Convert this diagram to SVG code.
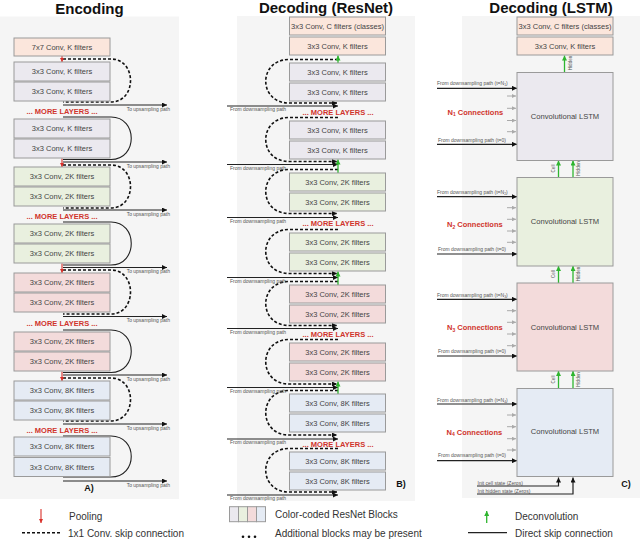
<svg xmlns="http://www.w3.org/2000/svg" width="640" height="541" viewBox="0 0 640 541">
<defs>
<style>
.bg{fill:#f5f5f5}
.box{stroke:#9a9a9a;stroke-width:1}
.pk{fill:#fbe6dc}.gy{fill:#ebe9ef}.gn{fill:#e9f0df}.rd{fill:#f3dbdb}.bl{fill:#e5ebf4}
.bt{font-family:"Liberation Sans",Arial,sans-serif;font-size:7.5px;fill:#444;text-anchor:middle}
.lt{font-family:"Liberation Sans",Arial,sans-serif;font-size:7.6px;fill:#444;text-anchor:middle}
.more{font-family:"Liberation Sans",Arial,sans-serif;font-size:7.5px;font-weight:bold;fill:#d0342c;text-anchor:middle}
.nc{font-family:"Liberation Sans",Arial,sans-serif;font-size:7.5px;font-weight:bold;fill:#d0342c}
.tiny{font-family:"Liberation Sans",Arial,sans-serif;font-size:5px;fill:#555}
.tr{text-anchor:end}
.rot{font-family:"Liberation Sans",Arial,sans-serif;font-size:4.5px;fill:#555;text-anchor:middle}
.title{font-family:"Liberation Sans",Arial,sans-serif;font-size:15px;font-weight:bold;fill:#111;text-anchor:middle}
.lab{font-family:"Liberation Sans",Arial,sans-serif;font-size:9px;font-weight:bold;fill:#111;text-anchor:middle}
.leg{font-family:"Liberation Sans",Arial,sans-serif;font-size:10px;fill:#333}
.dash{fill:none;stroke:#111;stroke-width:1.6;stroke-dasharray:3 2}
.solid{fill:none;stroke:#222;stroke-width:1.1}
.blk{fill:none;stroke:#222;stroke-width:1.2}
.gry{fill:none;stroke:#aaa;stroke-width:1}
.grn{fill:none;stroke:#2fb52f;stroke-width:1.3}
.red{fill:none;stroke:#d9302a;stroke-width:1.1}
</style>
<marker id="ab" viewBox="0 0 10 10" refX="10" refY="5" markerWidth="6" markerHeight="5" orient="auto" markerUnits="userSpaceOnUse"><path d="M0,0 L10,5 L0,10 z" fill="#111"/></marker>
<marker id="ag" viewBox="0 0 10 10" refX="10" refY="5" markerWidth="5" markerHeight="5" orient="auto" markerUnits="userSpaceOnUse"><path d="M0,0 L10,5 L0,10 z" fill="#2fb52f"/></marker>
<marker id="ar" viewBox="0 0 10 10" refX="10" refY="5" markerWidth="4.5" markerHeight="4.5" orient="auto" markerUnits="userSpaceOnUse"><path d="M0,0 L10,5 L0,10 z" fill="#d9302a"/></marker>
<marker id="ay" viewBox="0 0 10 10" refX="10" refY="5" markerWidth="4" markerHeight="4" orient="auto" markerUnits="userSpaceOnUse"><path d="M0,0 L10,5 L0,10 z" fill="#aaa"/></marker>
</defs>

<g id="panels">
<rect class="bg" x="0" y="16.5" width="179" height="482.5"/>
<rect class="bg" x="237" y="16" width="178" height="485"/>
<rect class="bg" x="462" y="16" width="178" height="482"/>
<text class="title" x="89.5" y="13.5">Encoding</text>
<text class="title" x="326" y="13">Decoding (ResNet)</text>
<text class="title" x="551" y="13">Decoding (LSTM)</text>
<text class="lab" x="89" y="490.5">A)</text>
<text class="lab" x="401" y="486.5">B)</text>
<text class="lab" x="626" y="486.5">C)</text>
</g>

<g id="connectors">
<!-- Encoding loops -->
<path class="dash" d="M63,59 H111 C137,59 137,102 111,102 H63"/>
<path class="dash" d="M63,165 H111 C137,165 137,208 111,208 H63"/>
<path class="dash" d="M63,270 H111 C137,270 137,314 111,314 H63"/>
<path class="dash" d="M63,378 H111 C137,378 137,421 111,421 H63"/>
<path class="solid" d="M63,117 H111 C138,117 138,159.5 111,159.5 H63"/>
<path class="solid" d="M63,222 H111 C138,222 138,265 111,265 H63"/>
<path class="solid" d="M63,330 H111 C138,330 138,372.5 111,372.5 H63"/>
<path class="solid" d="M63,436 H111 C138,436 138,477 111,477 H63"/>
<g class="blk" marker-end="url(#ab)">
<line x1="63" y1="105" x2="167" y2="105"/>
<line x1="63" y1="162" x2="167" y2="162"/>
<line x1="63" y1="210" x2="167" y2="210"/>
<line x1="63" y1="267.5" x2="167" y2="267.5"/>
<line x1="63" y1="316.5" x2="167" y2="316.5"/>
<line x1="63" y1="375" x2="167" y2="375"/>
<line x1="63" y1="424" x2="167" y2="424"/>
<line x1="63" y1="481" x2="167" y2="481"/>
</g>
<g class="tiny tr">
<text x="170" y="110.5">To upsampling path</text>
<text x="170" y="167.5">To upsampling path</text>
<text x="170" y="215.5">To upsampling path</text>
<text x="170" y="273">To upsampling path</text>
<text x="170" y="322">To upsampling path</text>
<text x="170" y="380.5">To upsampling path</text>
<text x="170" y="429.5">To upsampling path</text>
<text x="170" y="486.5">To upsampling path</text>
</g>
<g class="red" marker-end="url(#ar)">
<line x1="62" y1="56" x2="62" y2="62"/>
<line x1="62" y1="158.5" x2="62" y2="167"/>
<line x1="62" y1="263.5" x2="62" y2="273"/>
<line x1="62" y1="371.5" x2="62" y2="381"/>
</g>

<!-- ResNet loops -->
<g class="dash" marker-end="url(#ab)">
<path d="M338,59.5 H289 C258,59.5 258,103 289,103 H337"/>
<path d="M338,117.5 H289 C258,117.5 258,161.5 289,161.5 H337"/>
<path d="M338,169.5 H289 C258,169.5 258,213.5 289,213.5 H337"/>
<path d="M338,229.5 H289 C258,229.5 258,273.5 289,273.5 H337"/>
<path d="M338,281.5 H289 C258,281.5 258,325.5 289,325.5 H337"/>
<path d="M338,339.5 H289 C258,339.5 258,384 289,384 H337"/>
<path d="M338,390.5 H289 C258,390.5 258,435 289,435 H337"/>
<path d="M338,448.5 H289 C258,448.5 258,492 289,492 H337"/>
</g>
<g class="blk" marker-end="url(#ab)">
<line x1="227" y1="106" x2="338" y2="106"/>
<line x1="227" y1="164.5" x2="338" y2="164.5"/>
<line x1="227" y1="217.5" x2="338" y2="217.5"/>
<line x1="227" y1="277.5" x2="338" y2="277.5"/>
<line x1="227" y1="328.5" x2="338" y2="328.5"/>
<line x1="227" y1="387.5" x2="338" y2="387.5"/>
<line x1="227" y1="439" x2="338" y2="439"/>
<line x1="227" y1="495" x2="338" y2="495"/>
</g>
<g class="tiny">
<text x="230" y="111">From downsampling path</text>
<text x="230" y="169.5">From downsampling path</text>
<text x="230" y="222.5">From downsampling path</text>
<text x="230" y="282.5">From downsampling path</text>
<text x="230" y="333.5">From downsampling path</text>
<text x="230" y="392.5">From downsampling path</text>
<text x="230" y="444">From downsampling path</text>
<text x="230" y="500">From downsampling path</text>
</g>
<g class="grn" marker-end="url(#ag)">
<line x1="338" y1="63" x2="338" y2="55.5"/>
<line x1="338" y1="173" x2="338" y2="159.5"/>
<line x1="338" y1="285" x2="338" y2="271.5"/>
<line x1="338" y1="394" x2="338" y2="381.5"/>
</g>

<!-- LSTM connections -->
<g class="grn" marker-end="url(#ag)">
<line x1="564.5" y1="72.5" x2="564.5" y2="55.5"/>
<line x1="558.5" y1="177.5" x2="558.5" y2="160.5"/>
<line x1="573" y1="177.5" x2="573" y2="160.5"/>
<line x1="558.5" y1="283" x2="558.5" y2="266"/>
<line x1="573" y1="283" x2="573" y2="266"/>
<line x1="558.5" y1="388.5" x2="558.5" y2="371"/>
<line x1="573" y1="388.5" x2="573" y2="371"/>
</g>
<g class="rot">
<text transform="translate(571.5,63) rotate(-90)">Hidden</text>
<text transform="translate(554.5,168.5) rotate(-90)">Cell</text>
<text transform="translate(579.5,168.5) rotate(-90)">Hidden</text>
<text transform="translate(554.5,274) rotate(-90)">Cell</text>
<text transform="translate(579.5,274) rotate(-90)">Hidden</text>
<text transform="translate(554.5,379.5) rotate(-90)">Cell</text>
<text transform="translate(579.5,379.5) rotate(-90)">Hidden</text>
</g>
<g class="blk" marker-end="url(#ab)">
<line x1="437" y1="88.3" x2="517" y2="88.3"/>
<line x1="437" y1="144.3" x2="517" y2="144.3"/>
<line x1="437" y1="196.7" x2="517" y2="196.7"/>
<line x1="437" y1="254" x2="517" y2="254"/>
<line x1="437" y1="299.3" x2="517" y2="299.3"/>
<line x1="437" y1="356" x2="517" y2="356"/>
<line x1="437" y1="404" x2="517" y2="404"/>
<line x1="437" y1="460.7" x2="517" y2="460.7"/>
</g>
<g class="gry" marker-end="url(#ay)">
<line x1="507" y1="96" x2="516" y2="96"/>
<line x1="507" y1="108.3" x2="516" y2="108.3"/>
<line x1="507" y1="120.5" x2="516" y2="120.5"/>
<line x1="507" y1="131.7" x2="516" y2="131.7"/>
<line x1="507" y1="207.7" x2="516" y2="207.7"/>
<line x1="507" y1="219.3" x2="516" y2="219.3"/>
<line x1="507" y1="231" x2="516" y2="231"/>
<line x1="507" y1="242.3" x2="516" y2="242.3"/>
<line x1="507" y1="310.7" x2="516" y2="310.7"/>
<line x1="507" y1="322.3" x2="516" y2="322.3"/>
<line x1="507" y1="334" x2="516" y2="334"/>
<line x1="507" y1="345.7" x2="516" y2="345.7"/>
<line x1="507" y1="415" x2="516" y2="415"/>
<line x1="507" y1="426.7" x2="516" y2="426.7"/>
<line x1="507" y1="438.7" x2="516" y2="438.7"/>
<line x1="507" y1="450" x2="516" y2="450"/>
</g>
<g class="tiny">
<text x="437" y="85">From downsampling path (t=N<tspan font-size="3.5" dy="1">1</tspan><tspan dy="-1">)</tspan></text>
<text x="438" y="141.5">From downsampling path (t=0)</text>
<text x="437" y="194">From downsampling path (t=N<tspan font-size="3.5" dy="1">2</tspan><tspan dy="-1">)</tspan></text>
<text x="438" y="251">From downsampling path (t=0)</text>
<text x="437" y="296.8">From downsampling path (t=N<tspan font-size="3.5" dy="1">3</tspan><tspan dy="-1">)</tspan></text>
<text x="438" y="353">From downsampling path (t=0)</text>
<text x="437" y="401.5">From downsampling path (t=N<tspan font-size="3.5" dy="1">4</tspan><tspan dy="-1">)</tspan></text>
<text x="438" y="457">From downsampling path (t=0)</text>
</g>
<g class="nc">
<text x="447.5" y="114.5">N<tspan font-size="5" dy="1.5">1</tspan><tspan dy="-1.5"> Connections</tspan></text>
<text x="447" y="227">N<tspan font-size="5" dy="1.5">2</tspan><tspan dy="-1.5"> Connections</tspan></text>
<text x="447" y="330">N<tspan font-size="5" dy="1.5">3</tspan><tspan dy="-1.5"> Connections</tspan></text>
<text x="446.5" y="434.5">N<tspan font-size="5" dy="1.5">4</tspan><tspan dy="-1.5"> Connections</tspan></text>
</g>
<g class="tiny">
<text x="477.5" y="484.6">Init cell state (Zeros)</text>
<text x="477.5" y="492.6">Init hidden state (Zeros)</text>
</g>
<path class="blk" d="M477,486 H558.5 V477.5" marker-end="url(#ab)"/>
<path class="blk" d="M477,494 H573 V477.5" marker-end="url(#ab)"/>
</g>

<g id="encoding">
<g id="e0"><rect class="box pk" x="14" y="38" width="96" height="18"/><text class="bt" x="62" y="49.7">7x7 Conv, K filters</text></g>
<g id="e1"><rect class="box gy" x="14" y="62" width="96" height="19"/><text class="bt" x="62" y="74.2">3x3 Conv, K filters</text></g>
<g id="e2"><rect class="box gy" x="14" y="82" width="96" height="19"/><text class="bt" x="62" y="94.2">3x3 Conv, K filters</text></g>
<g id="e3"><rect class="box gy" x="14" y="119" width="96" height="19"/><text class="bt" x="62" y="131.2">3x3 Conv, K filters</text></g>
<g id="e4"><rect class="box gy" x="14" y="139" width="96" height="19"/><text class="bt" x="62" y="151.2">3x3 Conv, K filters</text></g>
<g id="e5"><rect class="box gn" x="14" y="167" width="96" height="19"/><text class="bt" x="62" y="179.2">3x3 Conv, 2K filters</text></g>
<g id="e6"><rect class="box gn" x="14" y="187" width="96" height="19"/><text class="bt" x="62" y="199.2">3x3 Conv, 2K filters</text></g>
<g id="e7"><rect class="box gn" x="14" y="224" width="96" height="19"/><text class="bt" x="62" y="236.2">3x3 Conv, 2K filters</text></g>
<g id="e8"><rect class="box gn" x="14" y="244" width="96" height="19"/><text class="bt" x="62" y="256.2">3x3 Conv, 2K filters</text></g>
<g id="e9"><rect class="box rd" x="14" y="273" width="96" height="19"/><text class="bt" x="62" y="285.2">3x3 Conv, 2K filters</text></g>
<g id="e10"><rect class="box rd" x="14" y="293" width="96" height="19"/><text class="bt" x="62" y="305.2">3x3 Conv, 2K filters</text></g>
<g id="e11"><rect class="box rd" x="14" y="332" width="96" height="19"/><text class="bt" x="62" y="344.2">3x3 Conv, 2K filters</text></g>
<g id="e12"><rect class="box rd" x="14" y="352" width="96" height="19"/><text class="bt" x="62" y="364.2">3x3 Conv, 2K filters</text></g>
<g id="e13"><rect class="box bl" x="14" y="381" width="96" height="19"/><text class="bt" x="62" y="393.2">3x3 Conv, 8K filters</text></g>
<g id="e14"><rect class="box bl" x="14" y="401" width="96" height="19"/><text class="bt" x="62" y="413.2">3x3 Conv, 8K filters</text></g>
<g id="e15"><rect class="box bl" x="14" y="437" width="96" height="19"/><text class="bt" x="62" y="449.2">3x3 Conv, 8K filters</text></g>
<g id="e16"><rect class="box bl" x="14" y="457.5" width="96" height="19"/><text class="bt" x="62" y="469.7">3x3 Conv, 8K filters</text></g>
<text class="more" x="62" y="113.7">... MORE LAYERS ...</text>
<text class="more" x="62" y="218.7">... MORE LAYERS ...</text>
<text class="more" x="62" y="325.7">... MORE LAYERS ...</text>
<text class="more" x="62" y="432.7">... MORE LAYERS ...</text>
</g>

<g id="resnet">
<g id="r0"><rect class="box pk" x="289.5" y="17" width="96" height="18"/><text class="bt" x="337.5" y="28.7">3x3 Conv, C filters (classes)</text></g>
<g id="r1"><rect class="box pk" x="289.5" y="37" width="96" height="18"/><text class="bt" x="337.5" y="48.7">3x3 Conv, K filters</text></g>
<g id="r2"><rect class="box gy" x="289.5" y="63" width="96" height="18"/><text class="bt" x="337.5" y="74.7">3x3 Conv, K filters</text></g>
<g id="r3"><rect class="box gy" x="289.5" y="83" width="96" height="18"/><text class="bt" x="337.5" y="94.7">3x3 Conv, K filters</text></g>
<g id="r4"><rect class="box gy" x="289.5" y="121" width="96" height="18"/><text class="bt" x="337.5" y="132.7">3x3 Conv, K filters</text></g>
<g id="r5"><rect class="box gy" x="289.5" y="141" width="96" height="18"/><text class="bt" x="337.5" y="152.7">3x3 Conv, K filters</text></g>
<g id="r6"><rect class="box gn" x="289.5" y="173" width="96" height="18"/><text class="bt" x="337.5" y="184.7">3x3 Conv, 2K filters</text></g>
<g id="r7"><rect class="box gn" x="289.5" y="193" width="96" height="18"/><text class="bt" x="337.5" y="204.7">3x3 Conv, 2K filters</text></g>
<g id="r8"><rect class="box gn" x="289.5" y="233" width="96" height="18"/><text class="bt" x="337.5" y="244.7">3x3 Conv, 2K filters</text></g>
<g id="r9"><rect class="box gn" x="289.5" y="253" width="96" height="18"/><text class="bt" x="337.5" y="264.7">3x3 Conv, 2K filters</text></g>
<g id="r10"><rect class="box rd" x="289.5" y="285" width="96" height="18"/><text class="bt" x="337.5" y="296.7">3x3 Conv, 2K filters</text></g>
<g id="r11"><rect class="box rd" x="289.5" y="305" width="96" height="18"/><text class="bt" x="337.5" y="316.7">3x3 Conv, 2K filters</text></g>
<g id="r12"><rect class="box rd" x="289.5" y="343" width="96" height="18"/><text class="bt" x="337.5" y="354.7">3x3 Conv, 2K filters</text></g>
<g id="r13"><rect class="box rd" x="289.5" y="363" width="96" height="18"/><text class="bt" x="337.5" y="374.7">3x3 Conv, 2K filters</text></g>
<g id="r14"><rect class="box bl" x="289.5" y="394" width="96" height="18"/><text class="bt" x="337.5" y="405.7">3x3 Conv, 8K filters</text></g>
<g id="r15"><rect class="box bl" x="289.5" y="414" width="96" height="18"/><text class="bt" x="337.5" y="425.7">3x3 Conv, 8K filters</text></g>
<g id="r16"><rect class="box bl" x="289.5" y="452" width="96" height="18"/><text class="bt" x="337.5" y="463.7">3x3 Conv, 8K filters</text></g>
<g id="r17"><rect class="box bl" x="289.5" y="472" width="96" height="18"/><text class="bt" x="337.5" y="483.7">3x3 Conv, 8K filters</text></g>
<text class="more" x="338" y="114.7">... MORE LAYERS ...</text>
<text class="more" x="338" y="226">... MORE LAYERS ...</text>
<text class="more" x="338" y="337">... MORE LAYERS ...</text>
<text class="more" x="338" y="447.4">... MORE LAYERS ...</text>
</g>

<g id="lstm">
<g id="l0"><rect class="box pk" x="517" y="17" width="96" height="18"/><text class="bt" x="565" y="28.7">3x3 Conv, C filters (classes)</text></g>
<g id="l1"><rect class="box pk" x="517" y="37" width="96" height="18"/><text class="bt" x="565" y="48.7">3x3 Conv, K filters</text></g>
<g id="l2"><rect class="box gy" x="517" y="72.5" width="96" height="88" stroke-width="1.2"/><text class="lt" x="565" y="119.2">Convolutional LSTM</text></g>
<g id="l3"><rect class="box gn" x="517" y="177.5" width="96" height="88.5" stroke-width="1.2"/><text class="lt" x="565" y="224.4">Convolutional LSTM</text></g>
<g id="l4"><rect class="box rd" x="517" y="283" width="96" height="88" stroke-width="1.2"/><text class="lt" x="565" y="329.5">Convolutional LSTM</text></g>
<g id="l5"><rect class="box bl" x="517" y="388.5" width="96" height="88" stroke-width="1.2"/><text class="lt" x="565" y="434.4">Convolutional LSTM</text></g>
</g>

<g id="legend">
<line class="red" x1="41" y1="509" x2="41" y2="523" marker-end="url(#ar)"/>
<text class="leg" x="69" y="520">Pooling</text>
<line class="dash" x1="22" y1="532.7" x2="61" y2="532.7"/>
<text class="leg" x="68" y="536.5">1x1 Conv. skip connection</text>
<rect class="box gy" x="229.5" y="506.7" width="9" height="15" stroke-width="0.8"/>
<rect class="box gn" x="238.5" y="506.7" width="9" height="15" stroke-width="0.8"/>
<rect class="box rd" x="247.5" y="506.7" width="9" height="15" stroke-width="0.8"/>
<rect class="box bl" x="256.5" y="506.7" width="9" height="15" stroke-width="0.8"/>
<text class="leg" x="275" y="518">Color-coded ResNet Blocks</text>
<circle cx="243" cy="536.7" r="1.3" fill="#111"/>
<circle cx="249" cy="536.7" r="1.3" fill="#111"/>
<circle cx="255" cy="536.7" r="1.3" fill="#111"/>
<text class="leg" x="275" y="537">Additional blocks may be present</text>
<line class="grn" x1="486.7" y1="523" x2="486.7" y2="511" marker-end="url(#ag)"/>
<text class="leg" x="515" y="520">Deconvolution</text>
<line class="blk" x1="468" y1="532.7" x2="507" y2="532.7"/>
<text class="leg" x="515" y="536.5">Direct skip connection</text>
</g>
</svg>
